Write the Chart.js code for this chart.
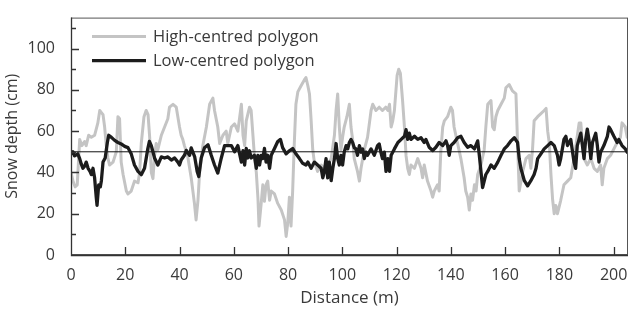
<!DOCTYPE html>
<html>
<head>
<meta charset="utf-8">
<script src="https://cdn.jsdelivr.net/npm/chart.js@4.4.1/dist/chart.umd.min.js"></script>
<style>
  html, body { margin: 0; padding: 0; background: #fff; }
</style>
</head>
<body>
<canvas id="snow-chart" width="632" height="310"></canvas>
<script>
(function () {
  "use strict";

  // ── Data ───────────────────────────────────────────────────────────────
  const xTicks  = [0, 20, 40, 60, 80, 100, 120, 140, 160, 180, 200];
  const yTicks  = [0, 20, 40, 60, 80, 100];
  const yMinor  = [10, 30, 50, 70, 90, 110];
  const refDepth = 50;

  const highDist = [
    0, 0.7, 1.5, 2.3, 3.2, 4, 5, 5.6, 6.5, 7.5, 8.7, 9.9, 10.6, 11.2, 11.8, 12.4, 13, 13.6, 14.2, 15.5,
    16.7, 17.3, 17.9, 18.5, 19.2, 20.4, 21, 22.2, 23.4, 24.7, 25.3, 25.9, 26.9, 27.7, 28.4, 29, 29.6, 30.2, 30.8, 31.4,
    32, 33.3, 34.5, 35.7, 36.3, 37.6, 38.8, 40, 40.6, 41.2, 41.8, 43, 44.3, 45.5, 46.1, 46.8, 47.4, 48.6, 49.9, 51.1,
    52.3, 52.9, 54.1, 54.8, 56, 57.2, 57.8, 59.1, 60.3, 61.5, 62.8, 63.4, 64, 64.6, 65.8, 66.4, 67, 67.6, 68.3, 68.9,
    69.3, 70.1, 70.7, 71.3, 71.9, 72.5, 73.2, 73.8, 75, 76.2, 77.5, 78.7, 79.3, 79.9, 80.5, 81.1, 81.7, 82.3, 82.9, 83.6,
    84.8, 86, 86.6, 87.3, 87.9, 88.5, 89.1, 89.7, 90.9, 92.2, 93.4, 94.6, 95.9, 97.1, 97.7, 98.3, 98.9, 99.5, 100.1, 100.7,
    101.7, 102.6, 103.2, 103.8, 104.4, 105.6, 106.3, 106.9, 108.1, 109.3, 110.6, 111.2, 112.4, 113.6, 114.8, 116, 116.8, 117.4, 118, 118.6,
    119.2, 120.2, 120.8, 121.4, 122.2, 122.9, 123.5, 124.1, 124.7, 125.3, 126.6, 127.8, 129, 129.6, 130.2, 131.4, 132.7, 133.3, 133.9, 135.1,
    135.7, 136.3, 137, 137.6, 138.8, 140, 140.6, 141.2, 142.5, 143.7, 144.9, 145.5, 146.2, 146.8, 147.4, 148, 148.7, 149.3, 149.9, 151.1,
    152.3, 152.9, 153.6, 154.8, 155.4, 156, 156.6, 157.3, 158.5, 159.7, 160.3, 161.5, 162.7, 164, 164.6, 165.2, 166.5, 167.7, 168.9, 169.5,
    170.1, 170.7, 172, 173.2, 174.4, 175.1, 175.7, 176.3, 176.9, 177.5, 178.1, 178.7, 179.3, 180.5, 181.7, 183, 184.2, 185.4, 186.6, 187.3,
    187.9, 188.5, 189.1, 190.3, 191.6, 192.8, 194, 195.2, 195.8, 196.4, 197.7, 198.9, 200.1, 201.3, 202.5, 203.1, 204.3, 205
  ];
  const highDepth = [
    40, 36, 33, 34, 56, 53, 55, 53, 58, 57, 58, 64, 70, 69, 68, 62, 53, 47, 43.6, 45,
    50, 67, 66, 45, 39, 31, 29.6, 31, 35.8, 35, 40, 54, 67, 70, 68, 57, 40, 37, 48, 54,
    51, 58, 62, 66, 71.6, 73, 71.6, 62, 58, 56, 53, 48, 37.4, 25, 17, 26.5, 40, 53, 62, 73,
    76, 70, 62, 54, 58, 60, 54, 62, 63.5, 60, 73, 58, 53, 65, 71.6, 70, 59, 48, 40, 27.6,
    14, 25, 34, 26, 34, 35.8, 26.5, 31, 29.6, 25, 21.8, 17, 9, 15.6, 28, 14, 31, 54, 73, 79,
    82, 84.8, 86, 82, 78, 65.4, 51, 45, 40.5, 43.6, 42, 43.6, 46.7, 58, 70, 78, 62, 51, 57, 62,
    67, 73, 62, 56, 46.7, 40.5, 35.8, 42, 51, 57, 70, 73, 70, 71.6, 70, 71.6, 70, 73, 62, 65,
    70, 87, 90, 88, 75, 62, 48, 42, 39, 43.6, 42, 46.7, 42, 37.4, 43.6, 35.8, 31, 28, 31, 34,
    31, 50, 62, 65, 67, 71.6, 70, 62, 54, 46.7, 37.4, 31, 28, 21.8, 29.6, 26.5, 34, 31, 39, 43.6,
    51, 62, 73, 74.8, 62, 60.7, 67, 70, 73, 76, 81, 82.6, 79.5, 78, 54, 31, 40.5, 46.7, 48.3, 42,
    51, 65, 67, 68.5, 70, 71, 60, 54, 39, 27, 20, 24, 20, 26.5, 34, 35.8, 37.4, 46.7, 57.5, 64,
    64, 54, 46.7, 43.6, 46.7, 42, 40.5, 43.6, 34, 42, 46.7, 48.3, 51.4, 54.5, 57, 64, 62, 57
  ];

  const lowDist = [
    0, 0.7, 1.3, 2.5, 3.2, 3.8, 4.4, 5, 5.6, 6.3, 7, 7.5, 8.1, 8.7, 9.3, 9.6, 10.2, 10.8, 11.2, 11.8,
    12.6, 13.4, 13.9, 14.9, 16.1, 17.3, 18.5, 19.8, 21, 22.2, 23.4, 24.7, 25.9, 27.1, 28.3, 28.9, 29.6, 30.8, 32, 33.3,
    34.5, 35.7, 37, 38.2, 39.4, 40, 40.6, 41.8, 42.5, 43.7, 44.3, 45.6, 46.5, 47.1, 48, 49.2, 50.5, 51.7, 52.9, 54.1,
    55.4, 56.6, 57.8, 59.1, 60.3, 61.5, 62.8, 63.4, 64, 64.6, 65.2, 65.8, 66.4, 67.6, 68.3, 68.9, 69.5, 70.1, 70.7, 71.3,
    71.9, 72.5, 73.2, 73.8, 75, 76.2, 77.2, 78, 79.3, 80.5, 81.7, 82.9, 84.2, 85.4, 86.6, 87.3, 88.5, 89.7, 90.9, 92.2,
    92.8, 93.4, 94, 94.6, 95.2, 95.9, 96.5, 97.1, 97.7, 98.3, 98.9, 99.5, 100.1, 100.7, 101.4, 102, 102.6, 103.2, 103.8, 104.4,
    105, 105.6, 106.3, 106.9, 107.5, 108.1, 108.7, 109.3, 110.6, 111.8, 113, 113.6, 114.2, 114.8, 115.5, 116.1, 116.8, 117.4, 118, 119.2,
    120.5, 121.7, 122.9, 123.5, 124.1, 124.7, 125.3, 126.6, 127.8, 129, 130.2, 130.8, 132, 133.3, 134.5, 135.7, 137, 138.2, 138.8, 139.4,
    140, 141.2, 142.5, 143.7, 144.9, 146.2, 147.4, 148.7, 149.9, 150.5, 151.1, 151.7, 152.3, 152.9, 153.6, 154.8, 156, 157.3, 158.5, 159.7,
    160.9, 162.2, 163.4, 164.6, 165.2, 165.8, 167.1, 168.3, 169.5, 170.7, 171.4, 172, 173.2, 174.4, 175.7, 176.9, 178.1, 179.3, 179.9, 180.5,
    181.7, 182.4, 183, 184.2, 185.4, 186, 186.6, 187.9, 188.5, 189.1, 189.7, 190.3, 190.9, 191.6, 192.2, 193.4, 194, 194.6, 195.2, 196.4,
    197.7, 198.3, 198.9, 200.1, 201.3, 201.9, 203.1, 204.3, 205
  ];
  const lowDepth = [
    49, 50, 48, 49, 46.7, 44, 42, 43, 45, 42, 40.5, 39, 42, 37.4, 28, 24, 34, 33, 36, 45,
    47, 54.5, 58, 57, 55.5, 54.5, 53.8, 52.6, 52, 49, 43.6, 40.5, 38.9, 42, 51.4, 55, 53, 47, 43.6, 47.5,
    47, 47.5, 46, 47, 45, 43.6, 46, 48.3, 50.7, 48.3, 51.9, 47.5, 40.5, 38, 47, 52, 53.4, 48.3, 43.6, 39.7,
    47, 53, 53, 53, 50, 53, 45, 50.5, 43.6, 51.6, 47, 50.5, 47, 48.3, 42, 48.3, 43.6, 48.3, 46.7, 51.6,
    45, 48.3, 42, 48.3, 51.6, 55, 56, 52, 49, 50.5, 51.6, 49, 46.7, 44.4, 43.6, 45, 42, 45, 43.6, 42,
    37.4, 40.5, 46.7, 37.4, 45, 36, 42, 46.7, 54, 46.7, 43.6, 48.3, 43.6, 49.8, 53, 51.4, 54.5, 56, 54.5, 52,
    51.4, 48.3, 53, 49.8, 51.4, 46.7, 49.8, 48.3, 51.4, 48.3, 53, 53.8, 49.8, 46.7, 49.8, 40.5, 46.7, 40.5, 48.3, 51.4,
    54.5, 56, 57.5, 60.7, 56, 59, 56, 57.5, 56, 56.8, 54.5, 56, 52.2, 50.6, 52.2, 54.5, 53, 55.3, 53, 48.3,
    53, 54.5, 56.8, 57.5, 54.5, 52.2, 53, 51.4, 55.3, 48.3, 40.5, 32.7, 35.8, 39, 40.5, 43.6, 42, 45, 48.3, 51.4,
    53, 55.3, 56.8, 54.5, 46.7, 42, 36, 33.5, 36, 39, 42, 46.7, 49, 51.4, 53, 54.5, 53, 48.3, 43.6, 46.7,
    56, 57.5, 53, 56, 45, 42, 53, 59, 53, 46.7, 56, 61, 56, 46.7, 54.5, 59, 53, 45, 49.8, 53,
    57.5, 62, 60.7, 57.5, 54.5, 56, 53, 51.4, 49.8
  ];

  const toPoints = (xs, ys) => xs.map((d, i) => ({ x: d, y: ys[i] }));

  const FONT = "'Open Sans', Lato, sans-serif";
  const TEXT = "#3a3a3a";

  // ── Inward ticks + frame ───────────────────────────────────────────────
  const frameTicks = {
    id: "frameTicks",
    afterDatasetsDraw(chart) {
      const { ctx, chartArea: a, scales: { x, y } } = chart;
      ctx.save();
      ctx.strokeStyle = "#555";
      ctx.lineWidth = 1;
      ctx.strokeRect(a.left + 0.5, a.top + 0.5, a.width - 1, a.height - 1);
      ctx.strokeStyle = "#333";
      ctx.lineWidth = 1.3;
      ctx.beginPath();
      ctx.moveTo(a.left + 0.5, a.top);
      ctx.lineTo(a.left + 0.5, a.bottom + 0.5);
      ctx.lineTo(a.right, a.bottom + 0.5);
      xTicks.forEach(v => {
        const px = Math.round(x.getPixelForValue(v)) + 0.5;
        ctx.moveTo(px, a.bottom);
        ctx.lineTo(px, a.bottom - 8);
      });
      yTicks.forEach(v => {
        const py = Math.round(y.getPixelForValue(v)) + 0.5;
        ctx.moveTo(a.left, py);
        ctx.lineTo(a.left + 8, py);
      });
      yMinor.forEach(v => {
        const py = Math.round(y.getPixelForValue(v)) + 0.5;
        ctx.moveTo(a.left, py);
        ctx.lineTo(a.left + 5, py);
      });
      ctx.stroke();
      ctx.restore();
    },
  };

  // ── Legend inside the plot (top-left) ─────────────────────────────────
  const innerLegend = {
    id: "innerLegend",
    afterDraw(chart) {
      const { ctx, chartArea: a } = chart;
      const items = chart.data.datasets.filter(ds => ds.label);
      ctx.save();
      ctx.font = "16.5px " + FONT;
      ctx.fillStyle = TEXT;
      ctx.textBaseline = "middle";
      items.forEach((ds, i) => {
        const yy = a.top + 19 + i * 24;
        ctx.strokeStyle = ds.borderColor;
        ctx.lineWidth = ds.borderWidth;
        ctx.beginPath();
        ctx.moveTo(a.left + 21, yy);
        ctx.lineTo(a.left + 75, yy);
        ctx.stroke();
        ctx.fillText(ds.label, a.left + 82, yy + 1);
      });
      ctx.restore();
    },
  };

  new Chart(document.getElementById("snow-chart"), {
    type: "line",
    data: {
      datasets: [
        {
          label: "High-centred polygon",
          data: toPoints(highDist, highDepth),
          borderColor: "#c4c4c4",
          borderWidth: 3,
          order: 2,
        },
        {
          label: "Low-centred polygon",
          data: toPoints(lowDist, lowDepth),
          borderColor: "#1c1c1c",
          borderWidth: 3.3,
          order: 0,
        },
        {
          label: "",
          data: [{ x: 0, y: refDepth }, { x: 205.3, y: refDepth }],
          borderColor: "#111",
          borderWidth: 1,
          order: 1,
        },
      ],
    },
    options: {
      responsive: false,
      animation: false,
      events: [],
      layout: { padding: { top: 9, right: 4, left: 0, bottom: 0 } },
      elements: {
        point: { radius: 0 },
        line: { tension: 0, borderJoinStyle: "round", borderCapStyle: "round" },
      },
      plugins: { legend: { display: false }, tooltip: { enabled: false } },
      scales: {
        x: {
          type: "linear",
          min: 0,
          max: 205.3,
          afterBuildTicks: s => { s.ticks = xTicks.map(v => ({ value: v })); },
          afterFit: s => { s.height = 55; },
          grid: { display: false },
          border: { display: false },
          ticks: { color: TEXT, font: { family: FONT, size: 16 }, padding: 3, maxRotation: 0 },
          title: { display: true, text: "Distance (m)", color: TEXT, font: { family: FONT, size: 17 }, padding: { top: 0, bottom: 2 } },
        },
        y: {
          min: 0,
          max: 115,
          afterBuildTicks: s => { s.ticks = yTicks.map(v => ({ value: v })); },
          afterFit: s => { s.width = 71; },
          grid: { display: false },
          border: { display: false },
          ticks: { color: TEXT, font: { family: FONT, size: 16 }, padding: 8 },
          title: { display: true, text: "Snow depth (cm)", color: TEXT, font: { family: FONT, size: 16 }, padding: { top: 3, bottom: 0 } },
        },
      },
    },
    plugins: [frameTicks, innerLegend],
  });
})();
</script>
</body>
</html>
